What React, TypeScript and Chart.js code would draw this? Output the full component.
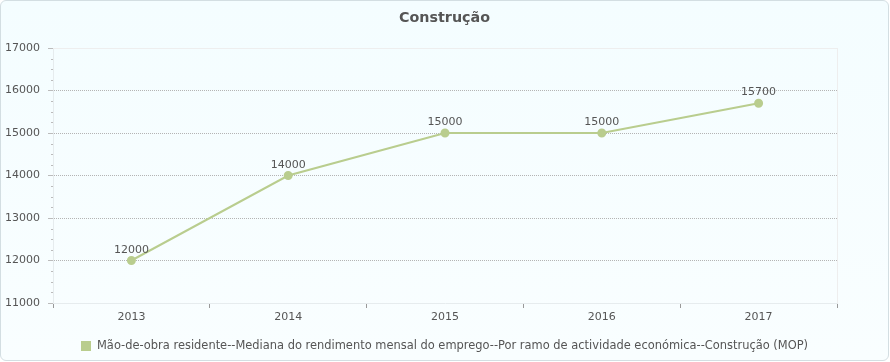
import React, { useEffect, useRef } from "react";
import { Chart, registerables } from "chart.js";

Chart.register(...registerables);

const categories = ["2013", "2014", "2015", "2016", "2017"];
const values = [12000, 14000, 15000, 15000, 15700];
const titleText = "Construção";
const seriesLabel =
  "Mão-de-obra residente--Mediana do rendimento mensal do emprego--Por ramo de actividade económica--Construção (MOP)";
const yMin = 11000;
const yMax = 17000;
const yStep = 1000;
const yMinorStep = 250;

const GREEN = "#b9cd8e";
const TEXT = "#555555";
const FONT = "'DejaVu Sans', Verdana, sans-serif";

const decorPlugin = {
  id: "decor",
  beforeDatasetsDraw(chart: any) {
    const { ctx, chartArea, scales } = chart;
    const y = scales.y;
    ctx.save();
    ctx.strokeStyle = "#eeeeee";
    ctx.lineWidth = 1;
    ctx.beginPath();
    ctx.moveTo(chartArea.left, Math.round(chartArea.top) + 0.5);
    ctx.lineTo(chartArea.right, Math.round(chartArea.top) + 0.5);
    ctx.moveTo(Math.round(chartArea.right) + 0.5, chartArea.top);
    ctx.lineTo(Math.round(chartArea.right) + 0.5, chartArea.bottom);
    ctx.stroke();
    ctx.strokeStyle = "#bbbbbb";
    ctx.beginPath();
    for (let v = yMin; v <= yMax; v += yMinorStep) {
      if (v % yStep === 0) continue;
      const py = Math.round(y.getPixelForValue(v)) + 0.5;
      ctx.moveTo(chartArea.left - 2, py);
      ctx.lineTo(chartArea.left, py);
    }
    ctx.stroke();
    ctx.restore();
  },
  afterDraw(chart: any) {
    const { ctx, width } = chart;
    ctx.save();
    ctx.fillStyle = TEXT;
    ctx.font = `bold 14.3px ${FONT}`;
    ctx.textAlign = "center";
    ctx.textBaseline = "middle";
    ctx.fillText(titleText, width / 2, 17);
    const meta = chart.getDatasetMeta(0);
    ctx.font = `11px ${FONT}`;
    ctx.textBaseline = "alphabetic";
    meta.data.forEach((pt: any, i: number) => {
      ctx.fillText(String(values[i]), pt.x, pt.y - 8);
    });
    ctx.font = `11.45px ${FONT}`;
    const tw = ctx.measureText(seriesLabel).width;
    const total = 10 + 6 + tw;
    const lx = Math.round(width / 2 - total / 2);
    const ly = 345;
    ctx.fillStyle = GREEN;
    ctx.fillRect(lx, ly - 5, 10, 10);
    ctx.fillStyle = TEXT;
    ctx.textAlign = "left";
    ctx.textBaseline = "middle";
    ctx.fillText(seriesLabel, lx + 16, ly);
    ctx.restore();
  },
};

export default function App() {
  const ref = useRef<HTMLCanvasElement>(null);
  useEffect(() => {
    document.body.style.margin = "0";
    const chart = new Chart(ref.current as HTMLCanvasElement, {
      type: "line",
      data: {
        labels: categories,
        datasets: [
          {
            label: seriesLabel,
            data: values,
            borderColor: GREEN,
            backgroundColor: GREEN,
            pointBackgroundColor: GREEN,
            pointBorderColor: GREEN,
            pointRadius: 3.5,
            borderWidth: 2,
            tension: 0,
          },
        ],
      },
      options: {
        animation: false,
        responsive: false,
        maintainAspectRatio: false,
        layout: { padding: { top: 47, bottom: 37, left: 0, right: 51 } },
        plugins: {
          legend: { display: false },
          title: { display: false },
          tooltip: { enabled: false },
        },
        scales: {
          x: {
            type: "category",
            offset: true,
            afterFit(scale: any) {
              scale.height = 20;
            },
            grid: {
              offset: true,
              drawOnChartArea: false,
              drawTicks: true,
              tickLength: 5,
              tickColor: "#999999",
              color: "#999999",
            },
            border: { display: true, color: "#e6ecee", width: 1 },
            ticks: {
              color: TEXT,
              font: { family: FONT, size: 11 },
              padding: 3,
              maxRotation: 0,
            },
          },
          y: {
            min: yMin,
            max: yMax,
            afterFit(scale: any) {
              scale.width = 52;
            },
            ticks: {
              stepSize: yStep,
              color: TEXT,
              font: { family: FONT, size: 11 },
              padding: 8,
              callback: (v: any) => String(v),
            },
            grid: {
              drawTicks: true,
              tickLength: 5,
              tickColor: "#bbbbbb",
              color: (c: any) =>
                c.tick && (c.tick.value === yMin || c.tick.value === yMax)
                  ? "rgba(0,0,0,0)"
                  : "#b4b4b4",
            },
            border: { display: true, color: "#e6ecee", width: 1, dash: [1, 1] },
          },
        },
      },
      plugins: [decorPlugin],
    });
    return () => chart.destroy();
  }, []);
  return (
    <div
      style={{
        position: "absolute",
        left: 0,
        top: 0,
        width: 889,
        height: 361,
        boxSizing: "border-box",
        border: "1px solid #d3dee2",
        borderRadius: 6,
        background: "linear-gradient(#f4fdff, #f9feff)",
        overflow: "hidden",
      }}
    >
      <canvas ref={ref} width={887} height={359} style={{ display: "block" }} />
    </div>
  );
}
